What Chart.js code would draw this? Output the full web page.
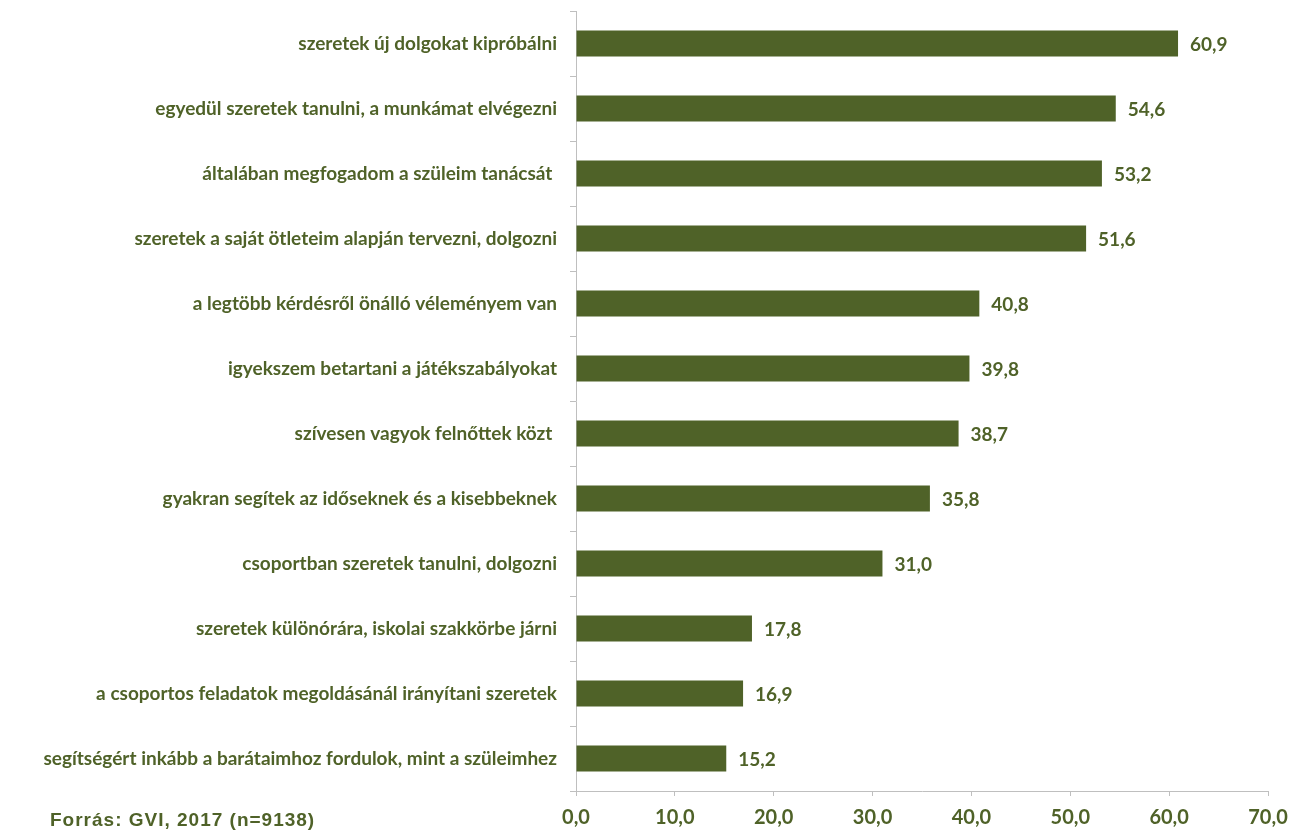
<!DOCTYPE html>
<html>
<head>
<meta charset="utf-8">
<script src="https://cdn.jsdelivr.net/npm/chart.js@4/dist/chart.umd.min.js"></script>
<style>
  html, body { margin: 0; padding: 0; background: #fff; }
  #wrap { position: relative; width: 1306px; height: 833px; }
  #source {
    position: absolute; left: 50px; top: 809px;
    font: bold 19px "Liberation Sans", Arial, sans-serif; color: #4F6228;
    letter-spacing: 1px;
  }
</style>
</head>
<body>
<div id="wrap">
  <canvas id="c" width="1306" height="833"></canvas>
  <div id="source">Forrás: GVI, 2017 (n=9138)</div>
</div>
<script>
const categories = [
  'szeretek új dolgokat kipróbálni',
  'egyedül szeretek tanulni, a munkámat elvégezni',
  'általában megfogadom a szüleim tanácsát ',
  'szeretek a saját ötleteim alapján tervezni, dolgozni',
  'a legtöbb kérdésről önálló véleményem van',
  'igyekszem betartani a játékszabályokat',
  'szívesen vagyok felnőttek közt ',
  'gyakran segítek az időseknek és a kisebbeknek',
  'csoportban szeretek tanulni, dolgozni',
  'szeretek különórára, iskolai szakkörbe járni',
  'a csoportos feladatok megoldásánál irányítani szeretek',
  'segítségért inkább a barátaimhoz fordulok, mint a szüleimhez'
];
const values = [60.9, 54.6, 53.2, 51.6, 40.8, 39.8, 38.7, 35.8, 31.0, 17.8, 16.9, 15.2];
const axisMin = 0, axisMax = 70, axisStep = 10;

const olive = '#4F6228';
const axisGray = '#BFBFBF';
const fontFamily = 'Lato, "Open Sans", sans-serif';
const fmt = v => Number(v).toFixed(1).replace('.', ',');

// Value labels to the right of each bar
const valueLabels = {
  id: 'valueLabels',
  afterDatasetsDraw(chart) {
    const ctx = chart.ctx;
    const meta = chart.getDatasetMeta(0);
    ctx.save();
    ctx.font = 'bold 19px ' + fontFamily;
    ctx.fillStyle = olive;
    ctx.textAlign = 'left';
    ctx.textBaseline = 'middle';
    meta.data.forEach((bar, i) => {
      ctx.fillText(fmt(chart.data.datasets[0].data[i]), bar.x + 12, bar.y + 1);
    });
    ctx.restore();
  }
};

new Chart(document.getElementById('c'), {
  type: 'bar',
  data: {
    labels: categories,
    datasets: [{
      data: values,
      backgroundColor: olive,
      borderWidth: 0,
      categoryPercentage: 0.8,
      barPercentage: 0.5
    }]
  },
  options: {
    indexAxis: 'y',
    responsive: false,
    animation: false,
    layout: { padding: { top: 11, right: 38, bottom: 0, left: 0 } },
    plugins: { legend: { display: false }, tooltip: { enabled: false } },
    scales: {
      x: {
        min: axisMin, max: axisMax,
        ticks: {
          stepSize: axisStep,
          callback: v => fmt(v),
          color: olive,
          font: { family: fontFamily, size: 20, weight: 'bold' },
          padding: 10
        },
        grid: { drawOnChartArea: false, tickLength: 5, color: axisGray },
        border: { color: axisGray, width: 1 },
        afterFit(scale) { scale.height = 42; }
      },
      y: {
        ticks: {
          color: olive,
          font: { family: fontFamily, size: 19, weight: 'bold' },
          padding: 13,
          autoSkip: false
        },
        grid: { offset: true, drawOnChartArea: false, tickLength: 6, color: axisGray },
        border: { color: axisGray, width: 1 },
        afterFit(scale) {
          scale.width = 576;
          scale.paddingTop = 0;
          scale.paddingBottom = 0;
        }
      }
    }
  },
  plugins: [valueLabels]
});
</script>
</body>
</html>
